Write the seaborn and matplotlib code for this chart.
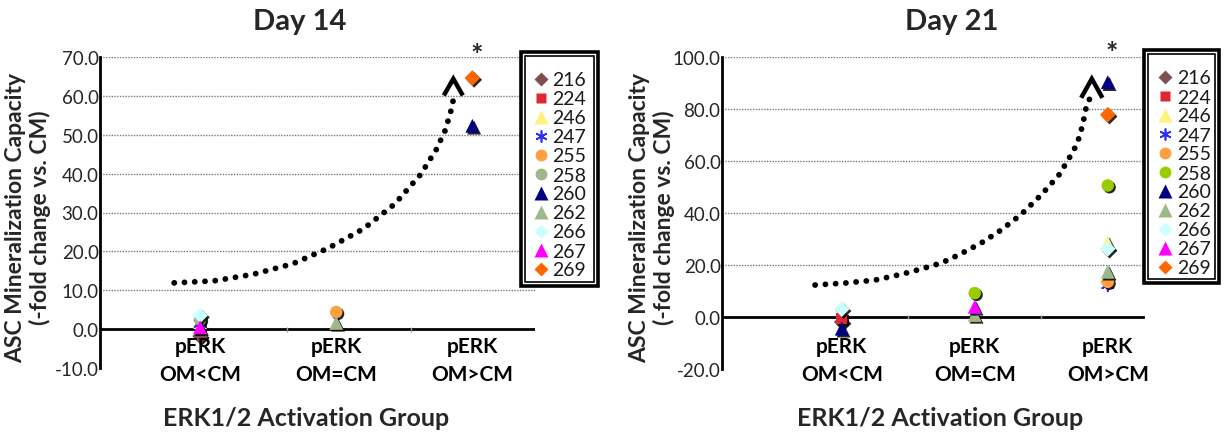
import numpy as np
import pandas as pd
import matplotlib
matplotlib.use("Agg")
import matplotlib.pyplot as plt
import seaborn as sns
import matplotlib.patheffects as pe
from matplotlib.lines import Line2D
from matplotlib.patches import Rectangle
from matplotlib.transforms import blended_transform_factory

# ---------------- data ----------------
donors = ["216", "224", "246", "247", "255", "258", "260", "262", "266", "267", "269"]
groups = ["pERK\nOM<CM", "pERK\nOM=CM", "pERK\nOM>CM"]
group_pos = [1, 2, 3]
nan = np.nan

# Day 14 values per donor (nan = not in group)
d14_low = [-1.8, 0.8, 1.8, 1.4, nan, 2.5, nan, nan, 3.5, 0.5, nan]
d14_eq = [nan, nan, nan, nan, 4.4, nan, nan, 1.6, nan, nan, nan]
d14_high = [nan, nan, nan, nan, nan, nan, 52.3, nan, nan, nan, 64.6]

# Day 21 values per donor
d21_low = [-1.9, -0.6, nan, nan, nan, nan, -4.5, nan, 3.0, nan, nan]
d21_eq = [nan, nan, nan, nan, nan, 9.2, nan, 0.8, nan, 3.9, nan]
d21_high = [nan, nan, 28.6, 12.3, 13.5, 50.6, 90.3, 17.4, 26.2, nan, 77.8]

# hand-drawn trend curves
c14_x = [0.81, 1.10, 1.39, 1.68, 1.94, 2.20, 2.43, 2.62, 2.735, 2.80, 2.84, 2.87]
c14_y = [11.9, 12.4, 14.1, 16.8, 20.8, 25.8, 32.2, 39.8, 46.2, 51.1, 55.8, 60.6]
a14_x = [2.79, 2.86, 2.93]
a14_y = [60.1, 64.4, 60.1]

c21_x = [0.80, 1.035, 1.25, 1.455, 1.60, 1.75, 1.88, 2.05, 2.20, 2.35, 2.50, 2.63, 2.70, 2.77, 2.81, 2.84, 2.87]
c21_y = [12.3, 13.1, 14.2, 16.5, 18.5, 20.8, 23.9, 28.5, 33.5, 39.5, 47.0, 54.4, 60.2, 66.6, 73.6, 81.2, 84.6]
a21_x = [2.80, 2.88, 2.96]
a21_y = [84.3, 91.6, 84.3]

# ---------------- style ----------------
colors14 = ["#7F4F4F", "#DC2832", "#FFF27A", "#2F2FF0", "#FFA040", "#9DB98A",
            "#000080", "#9DB98A", "#CCFFFF", "#FF00FF", "#FF6600"]
colors21 = ["#7F4F4F", "#DC2832", "#FFF27A", "#2F2FF0", "#FFA040", "#99CC00",
            "#000080", "#9DB98A", "#CCFFFF", "#FF00FF", "#FF6600"]
markers = ["D", "s", "^", (6, 2, 0), "o", "o", "^", "^", "D", "^", "D"]
msizes = [8, 8, 10, 9, 9, 9, 10, 10, 8, 10, 8]

sns.set_theme(style="white")
plt.rcParams["font.family"] = ["Lato", "DejaVu Sans"]

W, H = 1228, 435
fig = plt.figure(figsize=(W / 100, H / 100), dpi=100)


def fx(x):
    return x / W


def fy(y):
    return 1 - y / H


def make_df(low, eq, high):
    rows = []
    for vals, gx in zip([low, eq, high], group_pos):
        for d, v in zip(donors, vals):
            if not np.isnan(v):
                rows.append({"donor": d, "x": gx, "y": v})
    return pd.DataFrame(rows)


def panel(rect_px, ylim, ystep, xlim, df, colors, cx, cy, ax_, ay_, star_y,
          title, title_x, ylab_x, xlab_x, minor_ticks, legend_box):
    l, t, r, b = rect_px
    ax = fig.add_axes([fx(l), fy(b), fx(r - l), (b - t) / H])
    ax.set_xlim(*xlim)
    ax.set_ylim(*ylim)
    ticks = np.arange(ylim[0], ylim[1] + 0.01, ystep)
    ax.set_yticks(ticks)
    ax.set_yticklabels([f"{v:.1f}" for v in ticks], fontsize=13.5, color="#262626")
    ax.tick_params(axis="y", length=0, pad=1)
    ax.set_xticks([])
    for s in ["top", "right", "bottom"]:
        ax.spines[s].set_visible(False)
    ax.spines["left"].set_color("black")
    ax.spines["left"].set_linewidth(2)
    for v in ticks:
        if v > 0:
            ax.axhline(v, color="#7a7a7a", lw=1.0, ls=(0, (1, 1)), zorder=0)
    ax.axhline(0, color="black", lw=2, zorder=1)
    span = (ylim[1] - ylim[0])
    ax.vlines(minor_ticks, -span * 0.008, span * 0.008, color="#999999", lw=1)

    # dotted trend + chevron
    ax.plot(cx, cy, color="black", lw=4.2, ls=(0, (0.01, 1.75)),
            dash_capstyle="round", zorder=2)
    ax.plot(ax_, ay_, color="black", lw=3.2, solid_capstyle="butt",
            solid_joinstyle="miter", zorder=2)

    # data points
    shadow = [pe.SimplePatchShadow(offset=(1.3, -1.3), shadow_rgbFace="black", alpha=0.85),
              pe.Normal()]
    for i, d in enumerate(donors):
        sub = df[df["donor"] == d]
        if sub.empty:
            continue
        m = markers[i]
        kw = dict(marker=m, s=msizes[i] ** 2, zorder=3)
        if isinstance(m, tuple):
            kw.update(color=colors[i], linewidth=1.3)
        else:
            kw.update(color=colors[i], edgecolor="none", linewidth=0)
        sns.scatterplot(data=sub, x="x", y="y", ax=ax, legend=False, **kw)
        ax.collections[-1].set_path_effects(shadow)
    ax.set_xlabel("")
    ax.set_ylabel("")

    # category labels
    tr = blended_transform_factory(ax.transData, fig.transFigure)
    for gx, g in zip(group_pos, groups):
        ax.text(gx, fy(337), g, transform=tr, ha="center", va="top",
                fontsize=15, fontweight="bold", linespacing=1.5, color="black")
    # asterisk
    ax.text(3.03, star_y, "*", ha="center", va="center", fontsize=21,
            fontweight="bold", clip_on=False)

    fig.text(fx(title_x), fy(22), title, ha="center", va="center",
             fontsize=21, fontweight="bold")
    fig.text(fx(ylab_x), fy((t + b) / 2 + 4),
             "ASC Mineralization Capacity\n(-fold change vs. CM)",
             rotation=90, ha="center", va="center", fontsize=16.5,
             fontweight="bold", linespacing=1.15)
    fig.text(fx(xlab_x), fy(419), "ERK1/2 Activation Group", ha="center",
             va="center", fontsize=18, fontweight="bold")

    # legend with double border
    (ox0, oy0, ox1, oy1), (ix0, iy0, ix1, iy1), mx, tx, ey0, ey1 = legend_box
    fig.add_artist(Rectangle((fx(ox0), fy(oy1)), fx(ox1 - ox0), (oy1 - oy0) / H,
                             transform=fig.transFigure, fill=True, facecolor="white",
                             edgecolor="black", lw=2.6, zorder=5))
    fig.add_artist(Rectangle((fx(ix0), fy(iy1)), fx(ix1 - ix0), (iy1 - iy0) / H,
                             transform=fig.transFigure, fill=False,
                             edgecolor="black", lw=1.2, zorder=6))
    n = len(donors)
    for i, d in enumerate(donors):
        yy = ey0 + (ey1 - ey0) * i / (n - 1)
        m = markers[i]
        lkw = dict(marker=m, markersize=msizes[i] * 0.95, linestyle="none",
                   transform=fig.transFigure, zorder=7)
        if isinstance(m, tuple):
            lkw.update(color=colors[i], markeredgewidth=1.2)
        else:
            lkw.update(markerfacecolor=colors[i], markeredgecolor="none")
        fig.add_artist(Line2D([fx(mx)], [fy(yy)], **lkw))
        fig.text(fx(tx), fy(yy + 1), d, ha="left", va="center", fontsize=14,
                 color="#1a1a1a", zorder=7)
    return ax


df14 = make_df(d14_low, d14_eq, d14_high)
df21 = make_df(d21_low, d21_eq, d21_high)

panel((100, 58, 535, 369), (-10, 70), 10, (0.265, 3.46), df14, colors14,
      c14_x, c14_y, a14_x, a14_y, 70.6, "Day 14", 300, 28, 306, [1.64, 2.55],
      ((521, 53, 598, 287), (525, 57, 594, 283), 541, 552, 80, 270))
panel((722, 58, 1145, 370), (-20, 100), 20, (0.10, 3.28), df21, colors21,
      c21_x, c21_y, a21_x, a21_y, 101.6, "Day 21", 952, 652, 940, [1.5, 2.5],
      ((1144, 51, 1219, 284), (1148, 55, 1215, 280), 1165, 1177, 78, 268))

fig.savefig("out.png", dpi=100)
